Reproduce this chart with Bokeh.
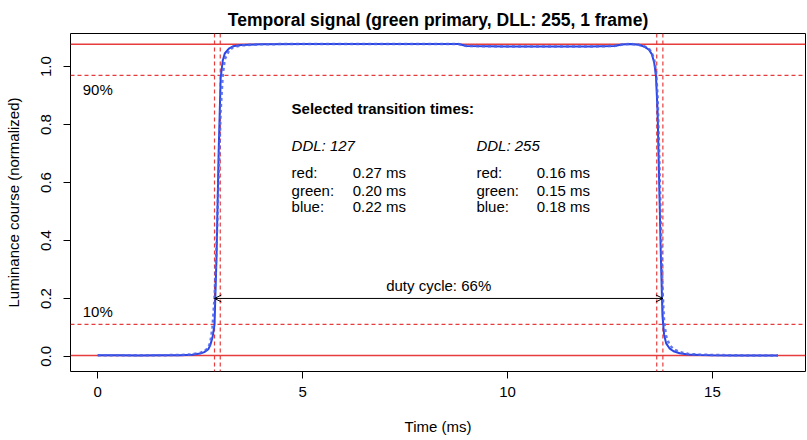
from bokeh.plotting import figure
from bokeh.models import Range1d, Span, Arrow, OpenHead, FixedTicker, ColumnDataSource, Label
from bokeh.embed import file_html
from bokeh.resources import INLINE

# ---------------- data ----------------
time_ms = [0.0, 0.5, 1.0, 1.5, 2.0, 2.3, 2.5, 2.6, 2.7, 2.75, 2.8, 2.85, 2.9, 2.95,
           3.0, 3.05, 3.1, 3.2, 3.3, 3.5, 4.0, 5.0, 6.0, 7.0, 8.0, 8.8, 9.0, 10.0,
           11.0, 12.0, 12.6, 12.8, 13.0, 13.2, 13.35, 13.45, 13.52, 13.58, 13.62,
           13.66, 13.7, 13.74, 13.78, 13.82, 13.87, 13.95, 14.05, 14.2, 14.4, 14.7,
           15.0, 15.5, 16.0, 16.6]
lum_a = [0.004, 0.004, 0.003, 0.004, 0.004, 0.006, 0.010, 0.015, 0.025, 0.040, 0.065, 0.11,
         0.35, 0.70, 0.96, 1.02, 1.045, 1.062, 1.070, 1.074, 1.077, 1.078, 1.078, 1.078,
         1.078, 1.078, 1.071, 1.069, 1.069, 1.069, 1.071, 1.076, 1.078, 1.075, 1.068,
         1.058, 1.043, 1.012, 0.970, 0.850, 0.600, 0.350, 0.140, 0.075, 0.045, 0.028,
         0.018, 0.011, 0.007, 0.005, 0.004, 0.003, 0.003, 0.003]
lum_b = [0.004, 0.004, 0.004, 0.004, 0.005, 0.007, 0.012, 0.018, 0.030, 0.050, 0.100, 0.20,
         0.38, 0.62, 0.85, 0.97, 1.025, 1.054, 1.066, 1.073, 1.077, 1.078, 1.078, 1.078,
         1.078, 1.078, 1.071, 1.069, 1.069, 1.069, 1.071, 1.076, 1.078, 1.075, 1.069,
         1.061, 1.048, 1.022, 0.985, 0.900, 0.700, 0.450, 0.230, 0.120, 0.070, 0.040,
         0.025, 0.015, 0.009, 0.006, 0.005, 0.004, 0.003, 0.003]

level_low = 0.003
level_high = 1.077
level_10 = level_low + 0.1 * (level_high - level_low)
level_90 = level_low + 0.9 * (level_high - level_low)
rise_times = [2.85, 2.99]     # 10% / 90% crossings
fall_times = [13.64, 13.79]   # 90% / 10% crossings
duty_y = 0.2
duty_text = "duty cycle: 66%"

channels = ["red:", "green:", "blue:"]
ddl127 = [0.27, 0.20, 0.22]
ddl255 = [0.16, 0.15, 0.18]

x_ticks = [0, 5, 10, 15]
y_ticks = [0.0, 0.2, 0.4, 0.6, 0.8, 1.0]

FONT = "Liberation Sans"
FS = "15px"

p = figure(width=807, height=440, x_range=Range1d(-0.664, 17.27),
           y_range=Range1d(-0.052, 1.114), output_backend="svg",
           toolbar_location=None, min_border_left=70, min_border_right=2,
           min_border_top=33, min_border_bottom=69)
p.grid.visible = False
p.outline_line_color = "black"
p.outline_line_width = 1
p.background_fill_color = "white"
p.border_fill_color = "white"

p.title.text = "Temporal signal (green primary, DLL: 255, 1 frame)"
p.title.align = "center"
p.title.text_font = FONT
p.title.text_font_size = "17.5px"
p.title.text_font_style = "bold"
p.title.text_color = "black"
p.title.offset = 0
p.title.standoff = 8

for ax in (p.xaxis[0], p.yaxis[0]):
    ax.axis_line_color = None
    ax.major_tick_out = 7
    ax.major_tick_in = 0
    ax.minor_tick_line_color = None
    ax.major_tick_line_color = "black"
    ax.major_label_text_font = FONT
    ax.major_label_text_font_size = FS
    ax.major_label_text_color = "black"
    ax.axis_label_text_font = FONT
    ax.axis_label_text_font_size = FS
    ax.axis_label_text_font_style = "normal"
    ax.axis_label_text_color = "black"

p.xaxis.ticker = FixedTicker(ticks=x_ticks)
p.yaxis.ticker = FixedTicker(ticks=y_ticks)
p.xaxis.major_label_overrides = {t: str(t) for t in x_ticks}
p.yaxis.major_label_overrides = {t: f"{t:.1f}" for t in y_ticks}
p.xaxis.axis_label = "Time (ms)"
p.yaxis.axis_label = "Luminance course (normalized)"
p.yaxis.major_label_orientation = "parallel"
p.xaxis.major_label_standoff = 8
p.xaxis.axis_label_standoff = 18
p.yaxis.major_label_standoff = 12
p.yaxis.axis_label_standoff = 17

RED = "#e63c3c"
for loc, dash in [(level_low, "solid"), (level_high, "solid"),
                  (level_10, "4 3"), (level_90, "4 3")]:
    p.add_layout(Span(location=loc, dimension="width", line_color=RED,
                      line_width=1.4, line_dash=dash, level="underlay"))
for loc in rise_times + fall_times:
    p.add_layout(Span(location=loc, dimension="height", line_color=RED,
                      line_width=1.2, line_dash="4 3", level="underlay"))

src = ColumnDataSource(dict(t=time_ms, a=lum_a, b=lum_b))
p.line("t", "a", source=src, line_color="#2b46e6", line_width=2)
p.line("t", "b", source=src, line_color="#4a62e8", line_width=2.5,
       line_dash="3 3", line_alpha=0.85)

p.add_layout(Arrow(start=OpenHead(size=7, line_width=1, line_color="black"),
                   end=OpenHead(size=7, line_width=1, line_color="black"),
                   x_start=rise_times[0], y_start=duty_y,
                   x_end=fall_times[1], y_end=duty_y,
                   line_color="black", line_width=1))

def txt(x, y, s, size=FS, style="normal", align="left"):
    p.add_layout(Label(x=x, y=y, text=s, text_font=FONT, text_font_size=size,
                       text_font_style=style, text_align=align,
                       text_baseline="middle", text_color="black"))

txt(-0.366, 0.921, "90%")
txt(-0.366, 0.155, "10%")
txt((rise_times[0] + fall_times[1]) / 2, 0.245, duty_text, align="center")
txt(4.73, 0.855, "Selected transition times:", style="bold")
txt(4.73, 0.728, "DDL: 127", style="italic")
txt(9.24, 0.728, "DDL: 255", style="italic")
row_y = [0.634, 0.572, 0.517]
for name, v1, v2, yy in zip(channels, ddl127, ddl255, row_y):
    txt(4.73, yy, name)
    txt(6.22, yy, f"{v1:.2f} ms")
    txt(9.24, yy, name)
    txt(10.71, yy, f"{v2:.2f} ms")

open("out.html", "w").write(file_html(p, INLINE))
